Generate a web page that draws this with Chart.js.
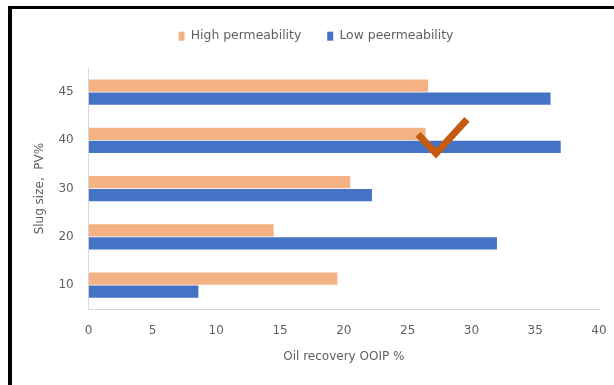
<!DOCTYPE html>
<html>
<head>
<meta charset="utf-8">
<script src="https://cdn.jsdelivr.net/npm/chart.js@4"></script>
<style>
  html, body { margin: 0; padding: 0; background: #fff; }
  #marco {
    position: absolute; left: 8px; top: 6px; width: 620px; height: 400px;
    border-top: 3px solid #000; border-left: 4px solid #000;
  }
  #contenedor { position: absolute; left: 0; top: 0; width: 614px; height: 385px; }
</style>
</head>
<body>
<div id="marco"></div>
<div id="contenedor"><canvas id="grafica"></canvas></div>
<script>
// Tamaño de tapón (PV %) de arriba hacia abajo
const tamanos = ['45', '40', '30', '20', '10'];
// Recobro de petróleo (% OOIP)
const altaPermeabilidad = [26.6, 26.4, 20.5, 14.5, 19.5];
const bajaPermeabilidad = [36.2, 37.0, 22.2, 32.0, 8.6];
const nombresSeries = ['High permeability', 'Low peermeability'];

const grisTexto = '#5f5f5f';
const fuenteTicks = { family: 'DejaVu Sans', size: 12 };
const fuenteLeyenda = { family: 'DejaVu Sans', size: 12.4 };

// Alto total reservado para la leyenda
const altoLeyenda = 64;

// Marca de verificación dibujada sobre la barra de 40
const marcaCheck = {
    id: 'marcaCheck',
    beforeInit(chart) {
        const ajusteOriginal = chart.legend.fit;
        chart.legend.fit = function () {
            ajusteOriginal.call(this);
            this.height = altoLeyenda;
        };
    },
    afterDatasetsDraw(chart) {
        const { ctx, scales: { x, y } } = chart;
        const cx = x.getPixelForValue(27.3);
        const cy = y.getPixelForValue(1);
        ctx.save();
        ctx.strokeStyle = '#C55A11';
        ctx.lineWidth = 7;
        ctx.lineCap = 'butt';
        ctx.lineJoin = 'miter';
        ctx.beginPath();
        ctx.moveTo(cx - 19, cy - 6);
        ctx.lineTo(cx - 1, cy + 13);
        ctx.lineTo(cx + 30, cy - 21);
        ctx.stroke();
        ctx.restore();
    }
};

new Chart(document.getElementById('grafica'), {
    type: 'bar',
    data: {
        labels: tamanos,
        datasets: [
            { label: nombresSeries[0], data: altaPermeabilidad, backgroundColor: '#F4B183' },
            { label: nombresSeries[1], data: bajaPermeabilidad, backgroundColor: '#4472C4' }
        ]
    },
    options: {
        indexAxis: 'y',
        responsive: true,
        maintainAspectRatio: false,
        animation: false,
        layout: { padding: { left: 33, right: 15, top: 4, bottom: 19 } },
        datasets: { bar: { categoryPercentage: 0.54, barPercentage: 0.94 } },
        plugins: {
            legend: {
                position: 'top',
                labels: {
                    color: grisTexto, font: fuenteLeyenda, boxWidth: 6, boxHeight: 9,
                    padding: 26
                }
            },
            tooltip: { enabled: false }
        },
        scales: {
            x: {
                min: 0, max: 40,
                ticks: { stepSize: 5, color: grisTexto, font: fuenteTicks, padding: 0 },
                grid: { display: false, tickLength: 14 },
                border: { display: true, color: '#D9D9D9', width: 1 },
                title: { display: true, text: 'Oil recovery OOIP %', color: grisTexto, font: fuenteTicks, padding: { top: 12, bottom: 2 } }
            },
            y: {
                ticks: { color: grisTexto, font: fuenteTicks, padding: 0 },
                grid: { display: false, tickLength: 15 },
                border: { display: true, color: '#D9D9D9', width: 1 },
                title: { display: true, text: 'Slug size,  PV%', color: grisTexto, font: fuenteTicks, padding: { top: 0, bottom: 11 } }
            }
        }
    },
    plugins: [marcaCheck]
});
</script>
</body>
</html>
